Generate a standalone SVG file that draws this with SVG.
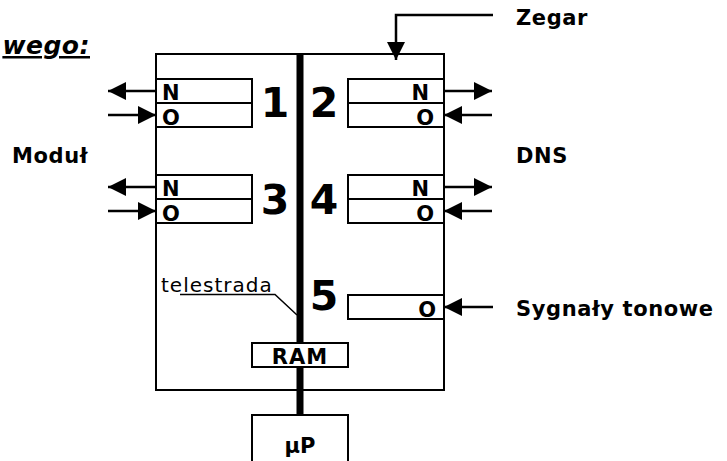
<svg xmlns="http://www.w3.org/2000/svg" width="727" height="461" viewBox="0 0 727 461">
<style>
  .box { fill: #fff; stroke: #000; stroke-width: 2; }
  .ln { fill: none; stroke: #000; stroke-width: 2.5; }
  .thin { fill: none; stroke: #000; stroke-width: 1.5; }
  .bus { stroke: #000; stroke-width: 7; }
  .lbl { font-family: "DejaVu Sans", Verdana, sans-serif; font-weight: bold; font-size: 21px; letter-spacing: 0.6px; fill: #000; }
  .reg { font-family: "DejaVu Sans", Verdana, sans-serif; font-weight: bold; font-size: 21px; fill: #000; }
  .num { font-family: "DejaVu Sans", Verdana, sans-serif; font-weight: bold; font-size: 41px; fill: #000; text-anchor: middle; }
  .title { font-family: "DejaVu Sans", Verdana, sans-serif; font-weight: bold; font-style: italic; font-size: 25px; letter-spacing: 0.5px; fill: #000; text-decoration: underline; }
  .small { font-family: "DejaVu Sans", Verdana, sans-serif; font-size: 20px; letter-spacing: 1px; fill: #000; }
</style>
<defs>
  <marker id="ah" viewBox="0 0 18 18" refX="18" refY="9" markerWidth="18" markerHeight="18" markerUnits="userSpaceOnUse" orient="auto">
    <path d="M0,0 L18,9 L0,18 Z" fill="#000"/>
  </marker>
</defs>
<rect width="727" height="461" fill="#fff"/>

<text class="title" x="90" y="54" text-anchor="end">wego:</text>

<g id="main">
  <rect class="box" x="156" y="54" width="288" height="336"/>
</g>

<g id="connectors">
  <line class="bus" x1="300" y1="54" x2="300" y2="416"/>
  <polyline class="ln" points="493,15 396,15 396,60" marker-end="url(#ah)"/>
  <line class="ln" x1="156" y1="91" x2="108" y2="91" marker-end="url(#ah)"/>
  <line class="ln" x1="108" y1="115" x2="156" y2="115" marker-end="url(#ah)"/>
  <line class="ln" x1="156" y1="187" x2="108" y2="187" marker-end="url(#ah)"/>
  <line class="ln" x1="108" y1="211" x2="156" y2="211" marker-end="url(#ah)"/>
  <line class="ln" x1="444" y1="91" x2="492" y2="91" marker-end="url(#ah)"/>
  <line class="ln" x1="492" y1="115" x2="444" y2="115" marker-end="url(#ah)"/>
  <line class="ln" x1="444" y1="187" x2="492" y2="187" marker-end="url(#ah)"/>
  <line class="ln" x1="492" y1="211" x2="444" y2="211" marker-end="url(#ah)"/>
  <line class="ln" x1="493" y1="307" x2="444" y2="307" marker-end="url(#ah)"/>
  <polyline class="thin" points="180,294.5 275,294.5 297,315"/>
</g>

<g id="reg1">
  <rect class="box" x="156" y="79" width="96" height="24"/>
  <rect class="box" x="156" y="103" width="96" height="24"/>
  <text class="reg" x="162" y="100">N</text>
  <text class="reg" x="162" y="125">O</text>
  <text class="num" x="275" y="117">1</text>
</g>
<g id="reg2">
  <rect class="box" x="348" y="79" width="96" height="24"/>
  <rect class="box" x="348" y="103" width="96" height="24"/>
  <text class="reg" x="429" y="100" text-anchor="end">N</text>
  <text class="reg" x="434" y="125" text-anchor="end">O</text>
  <text class="num" x="324" y="117">2</text>
</g>
<g id="reg3">
  <rect class="box" x="156" y="175" width="96" height="24"/>
  <rect class="box" x="156" y="199" width="96" height="24"/>
  <text class="reg" x="162" y="196">N</text>
  <text class="reg" x="162" y="221">O</text>
  <text class="num" x="275" y="214">3</text>
</g>
<g id="reg4">
  <rect class="box" x="348" y="175" width="96" height="24"/>
  <rect class="box" x="348" y="199" width="96" height="24"/>
  <text class="reg" x="429" y="196" text-anchor="end">N</text>
  <text class="reg" x="434" y="221" text-anchor="end">O</text>
  <text class="num" x="324" y="214">4</text>
</g>
<g id="reg5">
  <rect class="box" x="348" y="295" width="96" height="24"/>
  <text class="reg" x="436" y="317" text-anchor="end">O</text>
  <text class="num" x="324" y="310">5</text>
</g>
<g id="ram">
  <rect class="box" x="252" y="343" width="96" height="24"/>
  <text class="reg" x="300" y="364" text-anchor="middle" letter-spacing="1">RAM</text>
</g>
<g id="up">
  <rect class="box" x="252" y="415" width="96" height="60"/>
  <text class="reg" x="300" y="453" text-anchor="middle">μP</text>
</g>

<g id="labels">
  <text class="lbl" x="12" y="163">Moduł</text>
  <text class="lbl" x="516" y="25">Zegar</text>
  <text class="lbl" x="516" y="163">DNS</text>
  <text class="lbl" x="516" y="316">Sygnały tonowe</text>
  <text class="small" x="161" y="292">telestrada</text>
</g>
</svg>
